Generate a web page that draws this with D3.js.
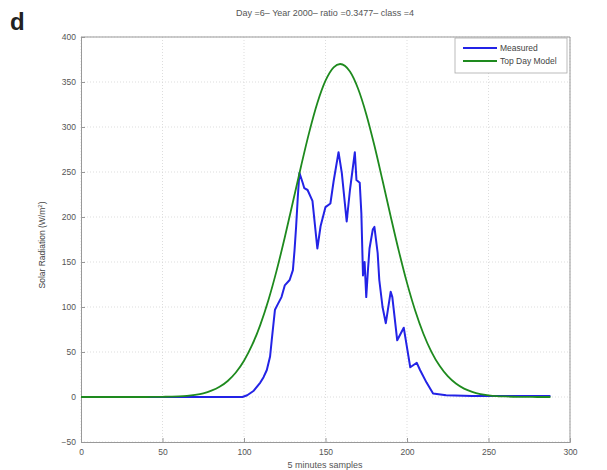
<!DOCTYPE html>
<html><head><meta charset="utf-8">
<script src="https://cdn.jsdelivr.net/npm/d3@7"></script>
<style>body{margin:0;background:#fff;} text{font-family:"Liberation Sans",Arial,sans-serif;}</style>
</head><body>
<svg id="chart" width="607" height="470"></svg>
<script>
const xTicks = [0, 50, 100, 150, 200, 250, 300];
const yTicks = [-50, 0, 50, 100, 150, 200, 250, 300, 350, 400];
const seriesNames = ["Measured", "Top Day Model"];

const modelSamples = [0,5,10,15,20,25,30,35,40,45,50,55,60,65,70,75,80,85,90,95,100,105,110,115,120,125,130,135,140,145,150,155,159,165,170,175,180,185,190,195,200,205,210,215,220,225,230,235,240,245,250,255,260,265,270,275,280,285,288];
const modelValues = [0,0,0,0,0,0,0,0,0,0.1,0.2,0.4,0.7,1.3,2.4,4.1,7.0,11.3,17.8,27.2,40.3,57.8,80.2,107.8,140.4,177.2,216.6,256.4,294.0,326.6,351.4,366.3,370,361.6,342.5,314.3,279.4,240.5,200.6,162.1,126.8,96.1,70.6,50.2,34.6,23.1,14.9,9.3,5.7,3.3,1.9,1.0,0.6,0.3,0.2,0.1,0,0,0];

const measuredSamples = [0,50,99,102,106,110,112,114,116,117,119,121,123,125,128,130,131,132,133,134,136,137,139,142,145,147,150,153,155,158,160,163,165,168,169,171,172,173,174,175,176,177,179,180,182,183,185,187,190,191,194,198,202,206,208,212,216,224,240,260,288];
const measuredValues = [0,0,0,2,7,16,22,30,45,63,97,104,111,124,130,141,163,190,222,249,238,232,230,218,165,190,211,215,240,272,249,195,230,272,241,238,204,135,150,111,140,165,186,189,160,130,100,82,117,111,63,77,33,38,30,16,4,2,1,1,1];

const W = 607, H = 470;
const m = {left: 81, right: 570, top: 37, bottom: 442};
const svg = d3.select("#chart");
const x = d3.scaleLinear().domain([0, 300]).range([m.left, m.right]);
const y = d3.scaleLinear().domain([-50, 400]).range([m.bottom, m.top]);

// grid
const g = svg.append("g");
g.selectAll(".gx").data(xTicks).join("line")
  .attr("x1", d => x(d)).attr("x2", d => x(d)).attr("y1", m.top).attr("y2", m.bottom)
  .attr("stroke", "#d4d4d4").attr("stroke-width", 0.8).attr("stroke-dasharray", "1,2");
g.selectAll(".gy").data(yTicks).join("line")
  .attr("y1", d => y(d)).attr("y2", d => y(d)).attr("x1", m.left).attr("x2", m.right)
  .attr("stroke", "#d4d4d4").attr("stroke-width", 0.8).attr("stroke-dasharray", "1,2");

// axes
const xAxis = d3.axisBottom(x).tickValues(xTicks).tickSize(-4).tickPadding(7);
const yAxis = d3.axisLeft(y).tickValues(yTicks).tickSize(-4).tickPadding(5);
const gx = svg.append("g").attr("transform", `translate(0,${m.bottom})`).call(xAxis);
const gy = svg.append("g").attr("transform", `translate(${m.left},0)`).call(yAxis);
[gx, gy].forEach(a => {
  a.select(".domain").attr("stroke", "#999");
  a.selectAll(".tick line").attr("stroke", "#999");
  a.selectAll(".tick text").attr("fill", "#555").attr("font-size", 8.5)
    .attr("font-family", "Liberation Sans, Arial, sans-serif");
});
// top/right border
svg.append("line").attr("x1", m.left).attr("x2", m.right).attr("y1", m.top).attr("y2", m.top).attr("stroke", "#999");
svg.append("line").attr("x1", m.right).attr("x2", m.right).attr("y1", m.top).attr("y2", m.bottom).attr("stroke", "#999");

// lines
const model = modelSamples.map((s, i) => [s, modelValues[i]]);
const meas = measuredSamples.map((s, i) => [s, measuredValues[i]]);
const line = d3.line().x(d => x(d[0])).y(d => y(d[1]));
svg.append("path").datum(meas).attr("d", line).attr("fill", "none")
  .attr("stroke", "#2323e6").attr("stroke-width", 2).attr("stroke-linejoin", "round");
svg.append("path").datum(model).attr("d", d3.line().x(d => x(d[0])).y(d => y(d[1])).curve(d3.curveMonotoneX)).attr("fill", "none")
  .attr("stroke", "#1e8a1e").attr("stroke-width", 1.8);

// legend
const lg = svg.append("g");
lg.append("rect").attr("x", 455).attr("y", 38).attr("width", 112).attr("height", 35)
  .attr("fill", "#fff").attr("stroke", "#aaa").attr("stroke-width", 0.8);
const lcol = ["#2323e6", "#1e8a1e"];
seriesNames.forEach((n, i) => {
  const yy = 48 + i * 13;
  lg.append("line").attr("x1", 463).attr("x2", 497).attr("y1", yy).attr("y2", yy)
    .attr("stroke", lcol[i]).attr("stroke-width", 2);
  lg.append("text").attr("x", 500).attr("y", yy + 3).attr("font-size", 8.5).attr("fill", "#444").text(n);
});

// title & labels
svg.append("text").attr("x", 325).attr("y", 16).attr("text-anchor", "middle").attr("font-size", 9).attr("fill", "#555")
  .text("Day =6\u2013 Year 2000\u2013 ratio =0.3477\u2013 class =4");
svg.append("text").attr("x", 325).attr("y", 468).attr("text-anchor", "middle").attr("font-size", 9).attr("fill", "#555")
  .text("5 minutes samples");
svg.append("text").attr("transform", "translate(45,245) rotate(-90)").attr("text-anchor", "middle")
  .attr("font-size", 8.5).attr("fill", "#444")
  .html('Solar Radiation (W/m<tspan baseline-shift="super" font-size="6">2</tspan>)');
svg.append("text").attr("x", 10).attr("y", 30).attr("font-size", 24).attr("font-weight", "bold").attr("fill", "#222").text("d");
</script>
</body></html>
